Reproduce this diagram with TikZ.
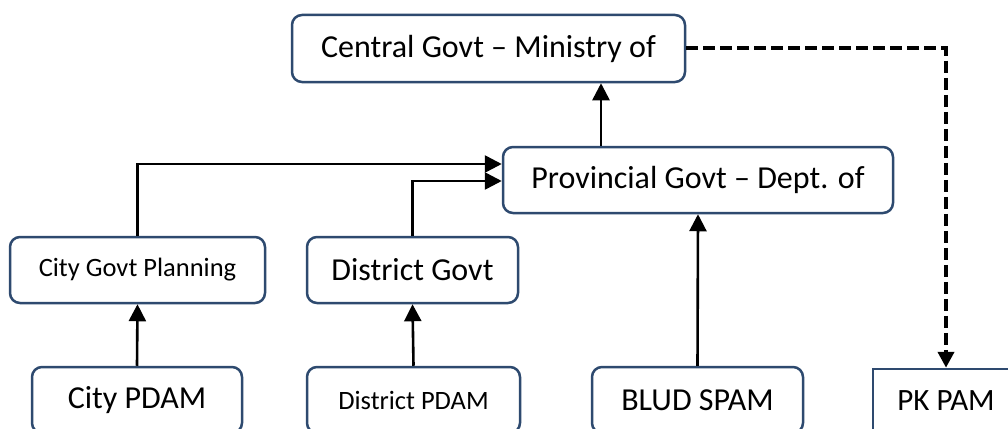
\documentclass[tikz,border=0pt]{standalone}
\usepackage{fontspec}
\setmainfont{Carlito}
\usetikzlibrary{arrows.meta}
\definecolor{boxline}{HTML}{2E4A6F}
\tikzset{
  org/.style={draw=boxline, line width=2.5pt, rounded corners=10pt, fill=white,
              inner sep=0pt, align=center, text=black},
  flatorg/.style={draw=boxline, line width=2.5pt, fill=white, inner sep=0pt, text=black},
  big/.style={font=\fontsize{32}{38}\selectfont},
  small/.style={font=\fontsize{26.5}{32}\selectfont},
  arr/.style={line width=2.6pt, -{Triangle[length=17pt,width=17pt]}},
  dasharr/.style={line width=4pt, dash pattern=on 12pt off 5pt,
                  -{Triangle[length=16pt,width=16pt]}},
}
\begin{document}
\begin{tikzpicture}[x=1pt,y=-1pt]
\useasboundingbox (0,0) rectangle (1008,428);
\clip (0,0) rectangle (1008,428);

% ministry and department
\node[org, big, minimum width=393pt, minimum height=67pt] (cen) at (488.5,48.5) {Central Govt – Ministry of};
\node[org, big, minimum width=390pt, minimum height=66pt] (prov) at (698,180) {Provincial Govt – Dept. of};

% local governments
\node[org, small, minimum width=255pt, minimum height=66pt] (cgp) at (137.5,270) {City Govt Planning};
\node[org, big, minimum width=211pt, minimum height=66pt] (dg) at (412.5,270) {District Govt};

% water utilities
\node[org, big, minimum width=210pt, minimum height=66pt] (cpdam) at (137,400) {City PDAM};
\node[org, small, minimum width=213pt, minimum height=66pt] (dpdam) at (413.5,400) {District PDAM};
\node[org, big, minimum width=211pt, minimum height=66pt] (blud) at (697.5,400) {BLUD SPAM};
\node[flatorg, font=\fontsize{31}{37}\selectfont, minimum width=146pt, minimum height=64pt] (pk) at (946,401) {PK PAM};

% reporting lines
\draw[arr] (cpdam.north) -- (cgp.south);
\draw[arr] (dpdam.north) -- (dg.south);
\draw[arr] (blud.north) -- (prov.south);
\draw[arr] (cgp.north) |- ([yshift=16pt]prov.west);
\draw[arr] (dg.north) |- ([yshift=-1pt]prov.west);
\draw[arr] ([xshift=-97pt]prov.north) -- ([xshift=-97pt]prov.north |- cen.south);
\draw[dasharr] (cen.east) -| (pk.north);
\end{tikzpicture}
\end{document}
